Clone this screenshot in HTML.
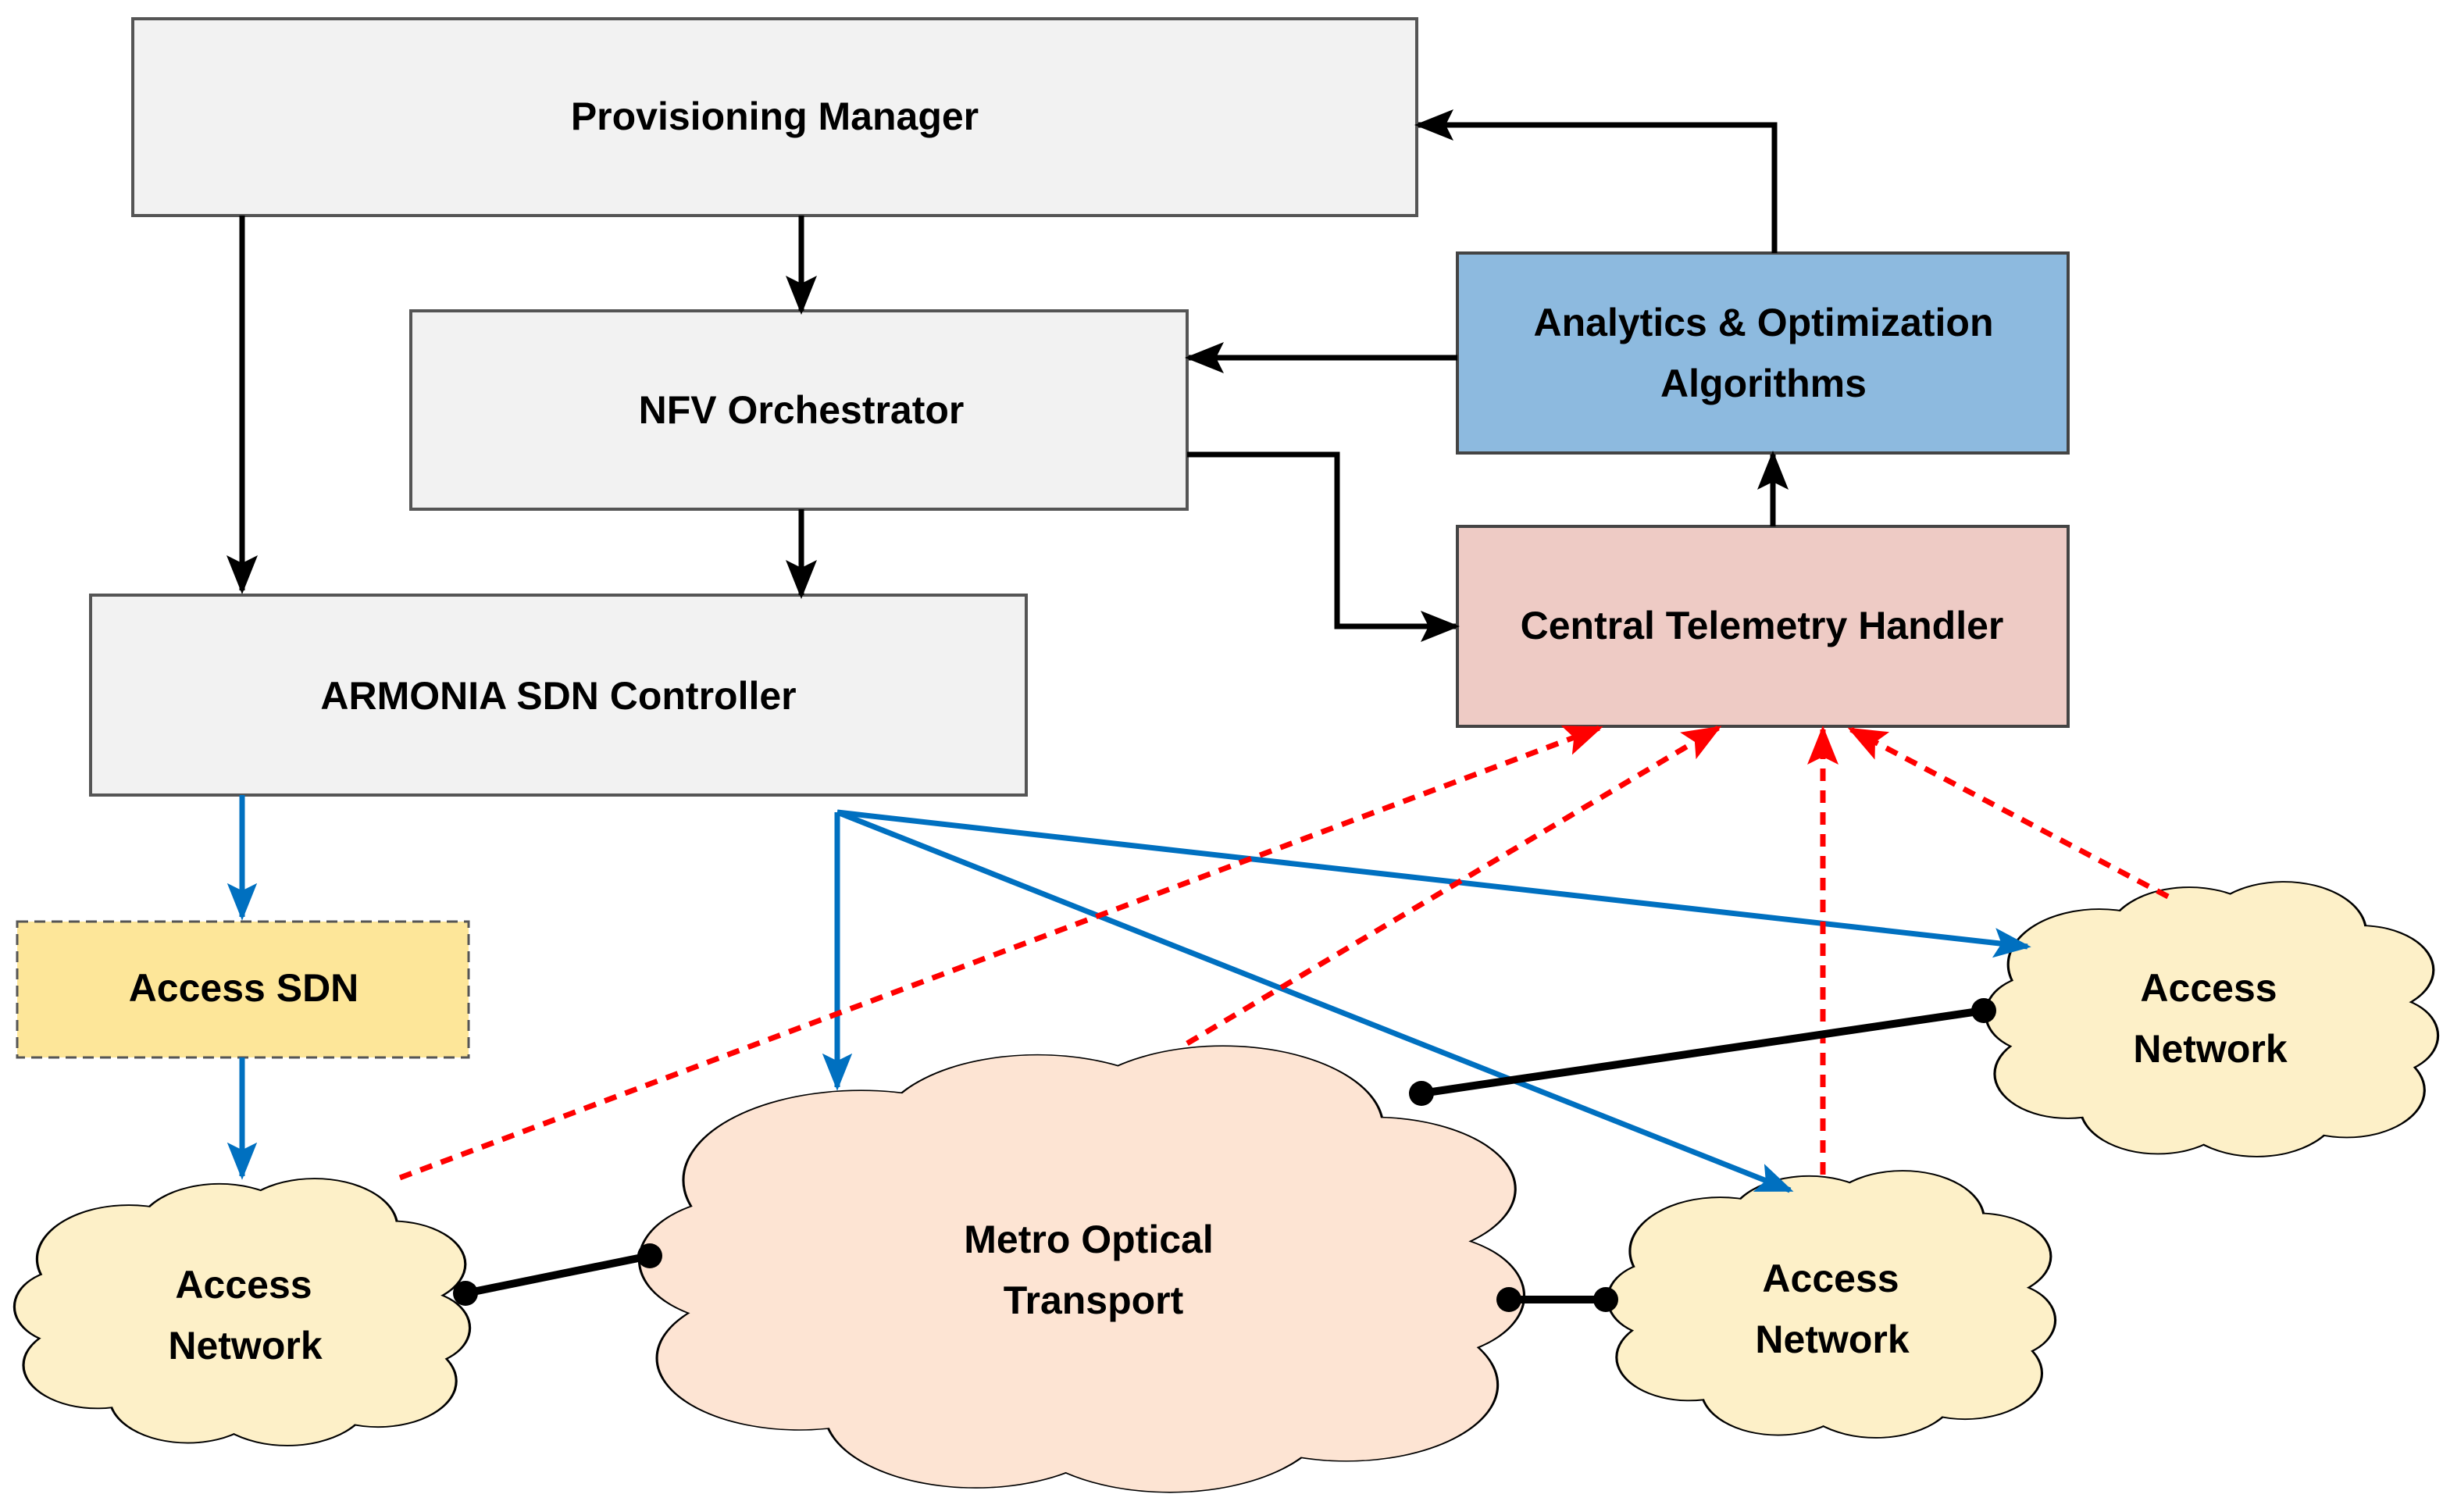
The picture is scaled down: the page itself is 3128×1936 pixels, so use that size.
<!DOCTYPE html>
<html><head><meta charset="utf-8"><style>html,body{margin:0;padding:0;background:#fff}</style></head>
<body>
<svg width="3128" height="1931" viewBox="0 0 3128 1931" xmlns="http://www.w3.org/2000/svg" font-family="Liberation Sans, sans-serif" font-weight="bold">
<defs>
<marker id="ak" viewBox="0 0 10 10" refX="9" refY="5" markerWidth="50" markerHeight="50" markerUnits="userSpaceOnUse" orient="auto"><path d="M0,1 L10,5 L0,9 L2,5 z" fill="#000"/></marker>
<marker id="bl" viewBox="0 0 10 10" refX="9" refY="5" markerWidth="48" markerHeight="48" markerUnits="userSpaceOnUse" orient="auto"><path d="M0,1 L10,5 L0,9 L2,5 z" fill="#0070c0"/></marker>
<marker id="rd" viewBox="0 0 10 10" refX="9" refY="5" markerWidth="50" markerHeight="50" markerUnits="userSpaceOnUse" orient="auto"><path d="M0,1 L10,5 L0,9 L2,5 z" fill="#ff0000"/></marker>
<g id="cs">
<ellipse cx="25" cy="30" rx="20" ry="20"/><ellipse cx="45" cy="20" rx="18" ry="18"/><ellipse cx="66" cy="18" rx="18" ry="18"/><ellipse cx="83" cy="32" rx="16" ry="16"/><ellipse cx="88" cy="56" rx="12" ry="14"/><ellipse cx="80" cy="76" rx="17" ry="17"/><ellipse cx="60" cy="82" rx="18" ry="18"/><ellipse cx="38" cy="82" rx="17" ry="17"/><ellipse cx="18" cy="70" rx="16" ry="16"/><ellipse cx="12" cy="48" rx="12" ry="14"/><ellipse cx="50" cy="50" rx="36" ry="34"/>
</g>
</defs>

<rect x="170" y="24" width="1644" height="252" fill="#f2f2f2" stroke="#555" stroke-width="4"/>
<text x="992" y="166" font-size="50" text-anchor="middle">Provisioning Manager</text>
<rect x="526" y="398" width="994" height="254" fill="#f2f2f2" stroke="#555" stroke-width="4"/>
<text x="1026" y="542" font-size="50" text-anchor="middle">NFV Orchestrator</text>
<rect x="116" y="762" width="1198" height="256" fill="#f2f2f2" stroke="#555" stroke-width="4"/>
<text x="715" y="908" font-size="50" text-anchor="middle">ARMONIA SDN Controller</text>
<rect x="1866" y="324" width="782" height="256" fill="#8dbadf" stroke="#444" stroke-width="4"/>
<text x="2258" y="430" font-size="50" text-anchor="middle">Analytics &amp; Optimization</text>
<text x="2258" y="508" font-size="50" text-anchor="middle">Algorithms</text>
<rect x="1866" y="674" width="782" height="256" fill="#eecbc5" stroke="#444" stroke-width="4"/>
<text x="2256" y="818" font-size="50" text-anchor="middle">Central Telemetry Handler</text>
<rect x="22" y="1180" width="578" height="174" fill="#fde699" stroke="#555" stroke-width="3" stroke-dasharray="14,8"/>
<text x="312" y="1282" font-size="50" text-anchor="middle">Access SDN</text>

<g>
<g transform="translate(820,1340) scale(11.3,5.7)" fill="#fde4d3" stroke="#000" stroke-width="0.55"><use href="#cs"/></g>
<g transform="translate(820,1340) scale(11.3,5.7)" fill="#fde4d3"><use href="#cs"/></g>
<g transform="translate(20,1510) scale(5.8,3.4)" fill="#fdf0c8" stroke="#000" stroke-width="1.1"><use href="#cs"/></g>
<g transform="translate(20,1510) scale(5.8,3.4)" fill="#fdf0c8"><use href="#cs"/></g>
<g transform="translate(2060,1500) scale(5.7,3.4)" fill="#fdf0c8" stroke="#000" stroke-width="1.1"><use href="#cs"/></g>
<g transform="translate(2060,1500) scale(5.7,3.4)" fill="#fdf0c8"><use href="#cs"/></g>
<g transform="translate(2544,1130) scale(5.76,3.5)" fill="#fdf0c8" stroke="#000" stroke-width="1.1"><use href="#cs"/></g>
<g transform="translate(2544,1130) scale(5.76,3.5)" fill="#fdf0c8"><use href="#cs"/></g>
</g>
<g font-size="50" text-anchor="middle">
<text x="1394" y="1604">Metro Optical</text><text x="1400" y="1682">Transport</text>
<text x="312" y="1662">Access</text><text x="314" y="1740">Network</text>
<text x="2344" y="1654">Access</text><text x="2346" y="1732">Network</text>
<text x="2828" y="1282">Access</text><text x="2830" y="1360">Network</text>
</g>

<g stroke="#000" stroke-width="7" fill="none">
<line x1="1026" y1="276" x2="1026" y2="398" marker-end="url(#ak)"/>
<line x1="310" y1="276" x2="310" y2="756" marker-end="url(#ak)"/>
<line x1="1026" y1="652" x2="1026" y2="762" marker-end="url(#ak)"/>
<polyline points="2272,324 2272,160 1816,160" marker-end="url(#ak)"/>
<line x1="1866" y1="458" x2="1522" y2="458" marker-end="url(#ak)"/>
<polyline points="1520,582 1712,582 1712,802 1864,802" marker-end="url(#ak)"/>
<line x1="2270" y1="674" x2="2270" y2="582" marker-end="url(#ak)"/>
</g>

<g stroke="#0070c0" stroke-width="7" fill="none">
<line x1="310" y1="1018" x2="310" y2="1174" marker-end="url(#bl)"/>
<line x1="310" y1="1354" x2="310" y2="1506" marker-end="url(#bl)"/>
<polyline points="1072,1040 1072,1392" marker-end="url(#bl)"/>
<line x1="1072" y1="1040" x2="2596" y2="1212" marker-end="url(#bl)"/>
<line x1="1072" y1="1040" x2="2292" y2="1524" marker-end="url(#bl)"/>
</g>

<g stroke="#ff0000" stroke-width="7" fill="none" stroke-dasharray="16,12">
<line x1="512" y1="1508" x2="2048" y2="932" marker-end="url(#rd)"/>
<line x1="1520" y1="1336" x2="2200" y2="932" marker-end="url(#rd)"/>
<line x1="2334" y1="1504" x2="2334" y2="934" marker-end="url(#rd)"/>
<line x1="2776" y1="1148" x2="2370" y2="934" marker-end="url(#rd)"/>
</g>

<g stroke="#000" stroke-width="10">
<line x1="596" y1="1656" x2="832" y2="1608"/>
<line x1="1820" y1="1400" x2="2540" y2="1294"/>
<line x1="1932" y1="1664" x2="2056" y2="1664"/>
</g>
<g fill="#000">
<circle cx="596" cy="1656" r="16"/><circle cx="832" cy="1608" r="16"/>
<circle cx="1820" cy="1400" r="16"/><circle cx="2540" cy="1294" r="16"/>
<circle cx="1932" cy="1664" r="16"/><circle cx="2056" cy="1664" r="16"/>
</g>
</svg>
</body></html>
